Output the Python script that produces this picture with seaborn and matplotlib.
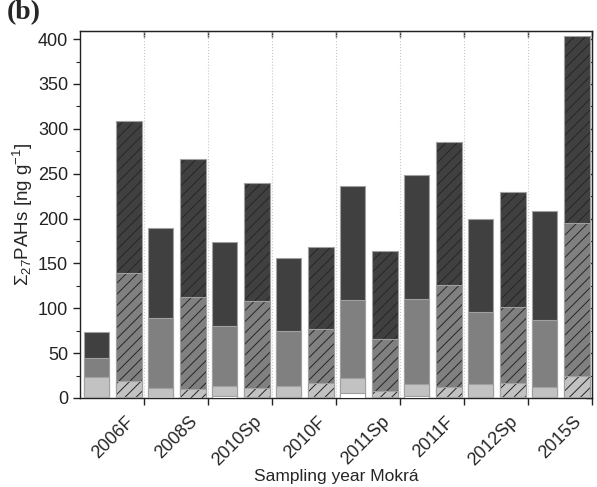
import numpy as np
import matplotlib
matplotlib.use("Agg")
import matplotlib.pyplot as plt
import seaborn as sns
from matplotlib.ticker import MultipleLocator, FixedLocator, NullFormatter

sns.set_style("ticks")
plt.rcParams['font.family'] = ['Liberation Sans', 'DejaVu Sans']
plt.rcParams['mathtext.fontset'] = 'custom'
plt.rcParams['mathtext.rm'] = 'Liberation Sans'
plt.rcParams['mathtext.it'] = 'Liberation Sans'
plt.rcParams['hatch.linewidth'] = 0.7

categories = ['2006F', '2008S', '2010Sp', '2010F', '2011Sp', '2011F', '2012Sp', '2015S']

# plain bars (layers bottom -> top)
plain_white = [1.0, 0.5, 2.0, 1.0, 5.0, 2.5, 1.5, 1.5]
plain_light = [22.0, 10.3, 11.4, 12.7, 16.9, 13.5, 14.5, 11.1]
plain_medium = [21.6, 78.7, 66.5, 61.0, 87.3, 94.0, 79.8, 74.3]
plain_dark = [28.6, 100.3, 94.3, 81.6, 127.0, 138.1, 104.0, 121.1]

# hatched bars (layers bottom -> top)
hatch_white = [1.0, 0.5, 1.0, 1.0, 1.0, 1.0, 1.0, 1.5]
hatch_light = [18.3, 9.2, 10.5, 16.0, 7.2, 11.6, 15.7, 23.3]
hatch_medium = [120.3, 102.5, 96.5, 59.9, 57.5, 113.7, 85.0, 169.8]
hatch_dark = [169.4, 154.1, 131.9, 91.7, 98.4, 159.3, 127.5, 208.7]

layer_colors = ['#ffffff', '#c2c2c2', '#808080', '#404040']
edge_col = '#a0a0a0'
hatch_col = '#262626'

fig = plt.figure(figsize=(5.97, 4.87), dpi=100)
ax = fig.add_axes([0.134, 0.1828, 0.8576, 0.7535])

grp = np.arange(len(categories))
pos_plain = grp + 0.255
pos_hatch = grp + 0.762

plain_layers = [plain_white, plain_light, plain_medium, plain_dark]
hatch_layers = [hatch_white, hatch_light, hatch_medium, hatch_dark]
plain_cum = np.cumsum(np.array(plain_layers), axis=0)
hatch_cum = np.cumsum(np.array(hatch_layers), axis=0)

for k in range(3, -1, -1):
    sns.barplot(x=pos_plain, y=plain_cum[k], native_scale=True, width=0.4,
                color=layer_colors[k], saturation=1, edgecolor=edge_col,
                linewidth=0.8, errorbar=None, ax=ax, zorder=3)
    n0 = len(ax.patches)
    sns.barplot(x=pos_hatch, y=hatch_cum[k], native_scale=True, width=0.4,
                color=layer_colors[k], saturation=1, edgecolor=edge_col,
                linewidth=0.8, errorbar=None, ax=ax, zorder=3)
    for p in ax.patches[n0:]:
        p.set_hatch('///')
        if hasattr(p, 'set_hatchcolor'):
            p.set_hatchcolor(hatch_col)
        else:
            p._hatch_color = matplotlib.colors.to_rgba(hatch_col)

ax.set_xlim(0, 8)
ax.set_ylim(0, 409)
ax.yaxis.set_major_locator(MultipleLocator(50))
ax.yaxis.set_minor_locator(MultipleLocator(25))

# major ticks at group boundaries (no labels), labels on shifted minor ticks
ax.xaxis.set_major_locator(FixedLocator(np.arange(1, 9)))
ax.xaxis.set_major_formatter(NullFormatter())
ax.xaxis.set_minor_locator(FixedLocator(np.arange(1, 9) - 0.3))
ax.set_xticklabels(categories, minor=True, rotation=45, ha='right',
                   rotation_mode='anchor', fontsize=13)
ax.tick_params(axis='x', which='minor', length=0, pad=11)

for v in range(1, 8):
    ax.axvline(v, color='#c8c8c8', linestyle=':', linewidth=0.8, zorder=1)

for s in ax.spines.values():
    s.set_linewidth(1.0)
    s.set_color('#222222')
    s.set_visible(True)

ax.tick_params(axis='both', which='major', direction='out', length=5, width=1,
               labelsize=13, colors='#222222')
ax.tick_params(axis='y', which='minor', direction='out', length=3, width=0.8)

secx = ax.secondary_xaxis('top')
secx.set_xticks(np.arange(1, 9))
secx.tick_params(direction='in', length=4, width=1, labeltop=False)
secy = ax.secondary_yaxis('right')
secy.yaxis.set_major_locator(MultipleLocator(50))
secy.yaxis.set_minor_locator(MultipleLocator(25))
secy.tick_params(which='major', direction='in', length=4, width=1, labelright=False)
secy.tick_params(which='minor', direction='in', length=2, width=0.8, labelright=False)

ax.set_xlabel('Sampling year Mokrá', fontsize=12.5, labelpad=0)
ax.set_ylabel(r'$\Sigma_{27}$PAHs [ng g$^{-1}$]', fontsize=13.5, labelpad=2)

fig.text(0.012, 0.948, '(b)', fontsize=20, fontweight='bold',
         family=['Liberation Serif', 'DejaVu Serif'], va='bottom', ha='left')

fig.savefig('out.png', dpi=100)
